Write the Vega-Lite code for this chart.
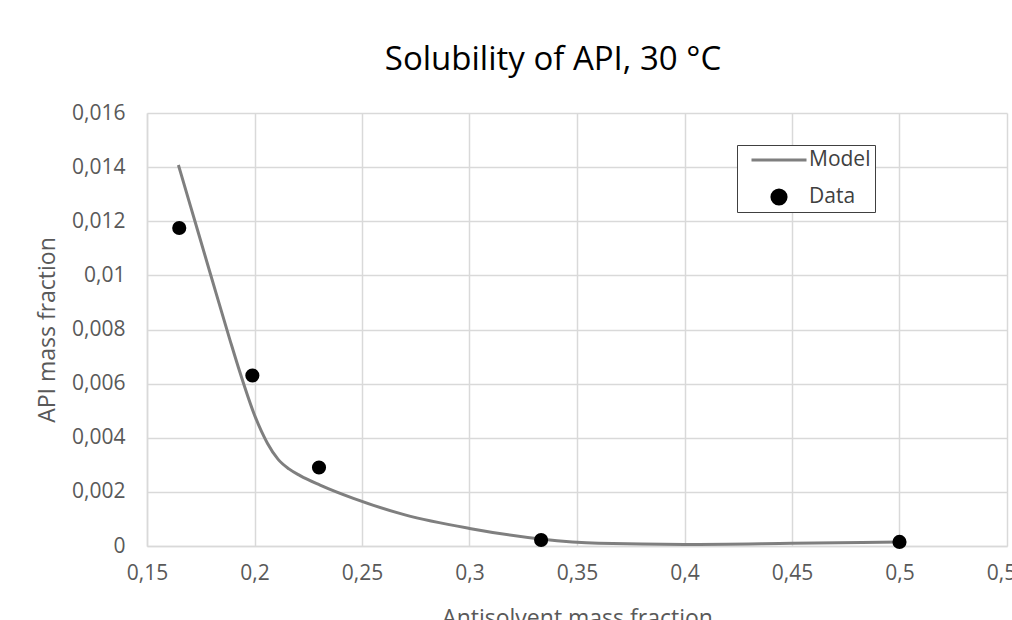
{
  "$schema": "https://vega.github.io/schema/vega-lite/v6.json",
  "autosize": {"type": "none"},
  "width": 860,
  "height": 433,
  "padding": {"left": 147, "top": 113, "right": 5, "bottom": 74},
  "background": "white",
  "config": {
    "locale": {"number": {"decimal": ",", "thousands": ".", "grouping": [3], "currency": ["", " €"]}},
    "view": {"stroke": null},
    "font": "Open Sans",
    "axis": {
      "labelFont": "Open Sans",
      "labelFontSize": 21,
      "labelColor": "#595959",
      "titleFont": "Open Sans",
      "titleFontSize": 23,
      "titleFontWeight": "normal",
      "titleColor": "#595959",
      "gridColor": "#d9d9d9",
      "gridWidth": 1.5,
      "domainColor": "#d9d9d9",
      "domainWidth": 1.5,
      "ticks": false
    }
  },
  "title": {
    "text": "Solubility of API, 30 °C",
    "font": "Open Sans",
    "fontSize": 33,
    "fontWeight": "normal",
    "color": "#000000",
    "offset": 25,
    "dx": -24
  },
  "datasets": {
    "model": [
      {"x": 0.1646, "y": 0.01408, "series": "Model"},
      {"x": 0.1703, "y": 0.01254, "series": "Model"},
      {"x": 0.1794, "y": 0.01008, "series": "Model"},
      {"x": 0.1886, "y": 0.00761, "series": "Model"},
      {"x": 0.1933, "y": 0.0064, "series": "Model"},
      {"x": 0.2002, "y": 0.0048, "series": "Model"},
      {"x": 0.206, "y": 0.0038, "series": "Model"},
      {"x": 0.211, "y": 0.0032, "series": "Model"},
      {"x": 0.216, "y": 0.00285, "series": "Model"},
      {"x": 0.2212, "y": 0.0026, "series": "Model"},
      {"x": 0.2305, "y": 0.00225, "series": "Model"},
      {"x": 0.246, "y": 0.00176, "series": "Model"},
      {"x": 0.27, "y": 0.00115, "series": "Model"},
      {"x": 0.3, "y": 0.00065, "series": "Model"},
      {"x": 0.333, "y": 0.00026, "series": "Model"},
      {"x": 0.36, "y": 0.0001, "series": "Model"},
      {"x": 0.4, "y": 0.00006, "series": "Model"},
      {"x": 0.45, "y": 0.0001, "series": "Model"},
      {"x": 0.5, "y": 0.00015, "series": "Model"}
    ],
    "points": [
      {"x": 0.165, "y": 0.01175, "series": "Data"},
      {"x": 0.199, "y": 0.0063, "series": "Data"},
      {"x": 0.23, "y": 0.0029, "series": "Data"},
      {"x": 0.3333, "y": 0.00022, "series": "Data"},
      {"x": 0.5, "y": 0.00015, "series": "Data"}
    ]
  },
  "encoding": {
    "x": {
      "field": "x",
      "type": "quantitative",
      "scale": {"domain": [0.15, 0.55], "nice": false, "zero": false},
      "axis": {"title": "Antisolvent mass fraction", "format": ".2~f", "values": [0.15, 0.2, 0.25, 0.3, 0.35, 0.4, 0.45, 0.5, 0.55], "labelPadding": 16, "titlePadding": 24, "labelFlush": false}
    },
    "y": {
      "field": "y",
      "type": "quantitative",
      "scale": {"domain": [0, 0.016], "nice": false},
      "axis": {"title": "API mass fraction", "format": ".3~f", "values": [0, 0.002, 0.004, 0.006, 0.008, 0.01, 0.012, 0.014, 0.016], "labelPadding": 22, "titlePadding": 12}
    }
  },
  "layer": [
    {
      "data": {"name": "model"},
      "mark": {"type": "line", "interpolate": "monotone", "strokeWidth": 3},
      "encoding": {
        "color": {
          "field": "series",
          "type": "nominal",
          "scale": {"domain": ["Model", "Data"], "range": ["#7f7f7f", "#000000"]}
        }
      }
    },
    {
      "data": {"name": "points"},
      "mark": {"type": "point", "filled": true, "opacity": 1},
      "encoding": {
        "color": {
          "field": "series",
          "type": "nominal",
          "scale": {"domain": ["Model", "Data"], "range": ["#7f7f7f", "#000000"]},
          "legend": {
            "title": null,
            "orient": "none",
            "legendX": 590,
            "legendY": 32,
            "padding": 4,
            "strokeColor": "#404040",
            "fillColor": "white",
            "labelFont": "Open Sans",
            "labelFontSize": 21,
            "labelColor": "#404040",
            "labelOffset": 1,
            "labelExpr": "datum.label + '\u00a0\u00a0'",
            "symbolOffset": 9,
            "symbolStrokeWidth": 3,
            "rowPadding": 15,
            "clipHeight": 22,
            "encode": {
              "symbols": {
                "update": {
                  "stroke": {"signal": "datum.value === 'Model' ? '#7f7f7f' : '#000000'"},
                  "strokeWidth": {"signal": "datum.value === 'Model' ? 3 : 0"}
                }
              }
            }
          }
        },
        "shape": {
          "field": "series",
          "type": "nominal",
          "scale": {"domain": ["Model", "Data"], "range": ["stroke", "circle"]}
        },
        "size": {
          "field": "series",
          "type": "nominal",
          "scale": {"domain": ["Model", "Data"], "range": [3025, 200]}
        }
      }
    }
  ]
}
